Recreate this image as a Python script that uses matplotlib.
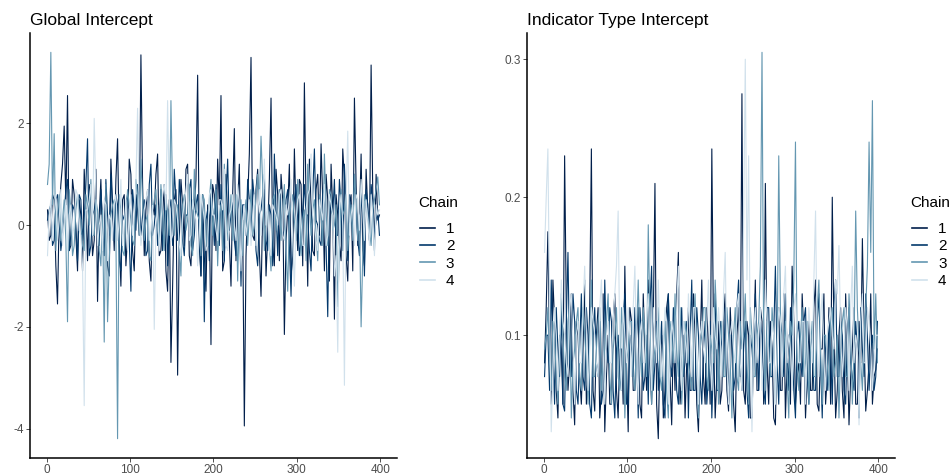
import numpy as np
import matplotlib
matplotlib.use("Agg")
import matplotlib.pyplot as plt
from matplotlib.lines import Line2D

plt.rcParams['font.family'] = ['Liberation Sans', 'DejaVu Sans']

# draws are read at every 2nd iteration: the base lists hold iterations 1,5,9,...
# and the *_mid lists the draws in between (3,7,11,...)
iters = np.arange(1, 401, 2)
chains = ['1', '2', '3', '4']
colors = ['#011f4b', '#03396c', '#6497b1', '#d1e1ec']

# Global Intercept, one list per chain
glob_1 = [0.3, -0.2, 0.5, -1.55, 0.8, 1.95, 2.55, -0.4, 0.6, -0.9,
          0.2, 1.1, -0.7, 0.4, -0.3, -1.5, 0.9, 0.1, -0.8, 1.3,
          -0.5, 1.7, -1.2, 0.6, -0.2, 1.0, -0.9, 0.3, 3.35, -0.6,
          0.7, -1.1, 0.2, 1.4, -0.5, 0.8, -1.3, -2.7, 0.5, -2.95,
          0.9, -0.4, 1.2, -0.8, 0.3, 2.95, -1.0, -0.6, 0.4, -2.35,
          0.6, 1.3, 2.55, -0.7, 0.2, -1.2, 1.9, 0.4, -0.9, -3.95,
          0.5, 3.3, -0.3, 1.1, -1.4, 0.7, -0.2, 2.5, -0.8, 0.6,
          1.0, -2.15, 0.3, -1.0, 1.5, -0.5, 0.8, 2.8, -1.2, 0.4,
          -0.6, 1.0, 1.6, -0.9, 0.5, 1.2, -1.85, 0.2, -0.7, 0.9,
          -1.1, 0.6, 2.5, -0.4, 1.4, -0.8, 0.3, 3.15, -0.5, 0.1]
glob_1_mid = [-0.3, 0.6, -0.8, 0.2, 1.2, 0.4, -0.5, 0.9, -0.2, 0.5,
              -0.9, 0.3, 0.8, -0.6, 1.1, 0.2, -0.4, 0.7, -1.0, 0.4,
              0.9, -0.3, 0.5, -0.8, 1.3, -0.5, 0.6, -0.2, 0.8, 0.3,
              -0.7, 0.4, 1.0, -0.6, 0.2, -0.9, 0.5, -1.2, 0.7, -0.3,
              0.4, 1.1, -0.6, 0.3, 0.9, -0.4, 0.6, -1.3, 0.2, 0.8,
              -0.5, 0.4, -0.9, 1.0, -0.3, 0.6, -0.7, 1.2, 0.1, -0.6,
              1.4, -0.2, 0.7, -0.5, 0.3, -1.0, 0.9, -0.4, 1.1, -0.7,
              0.5, -0.3, 1.2, -0.6, 0.2, 0.9, -0.8, 0.4, 1.3, -0.5,
              0.7, -0.2, 0.5, 1.0, -1.1, 0.3, 0.6, -0.4, 1.5, -0.6,
              0.4, -0.9, 0.8, 0.1, -0.5, 1.1, -0.3, 0.6, 1.0, 0.2]
glob_2 = [0.1, 0.4, -0.3, 0.6, -0.5, 0.2, 0.9, -0.2, 0.3, -0.7,
          0.5, 0.1, 1.7, -0.4, 0.3, -0.1, 0.7, -0.6, 0.2, 1.0,
          -0.3, 0.4, -0.9, 0.1, 0.6, -1.3, 0.3, 0.8, -0.2, 0.5,
          -0.5, 1.2, 0.0, -0.4, 0.7, 0.2, -0.8, 0.5, 1.1, -0.3,
          0.4, -0.6, 0.2, 0.9, -0.2, 0.6, -1.0, -1.9, 0.3, 0.7,
          -0.4, 0.1, 0.8, -0.7, 1.3, 0.2, -0.3, 0.6, -1.2, 0.4,
          0.9, -0.2, 0.5, -0.8, 0.3, 1.0, -0.5, 0.2, 1.4, -0.6,
          0.3, -0.1, 0.7, -1.4, 0.5, 0.1, -0.3, 0.8, 0.2, -0.9,
          1.5, 0.0, -0.4, 0.6, -1.8, 0.3, 0.9, -0.2, 0.4, 1.2,
          -0.7, 0.2, 1.0, -0.3, 0.6, -1.0, 0.4, 0.8, -0.2, 0.3]
glob_2_mid = [0.3, -0.4, 0.5, 0.1, -0.2, 0.7, -0.5, 0.4, 0.0, 0.6,
              -0.3, 0.8, -0.6, 0.2, 0.5, -0.4, 0.1, 0.9, -0.2, 0.3,
              0.6, -0.7, 0.2, 0.4, -0.3, 0.7, -0.1, 0.5, 0.2, -0.6,
              0.8, -0.2, 0.4, 0.1, -0.5, 0.6, 0.3, -0.4, 0.5, 0.9,
              -0.3, 0.2, 0.7, -0.5, 0.4, -0.2, 0.6, 0.1, -0.7, 0.3,
              0.8, -0.4, 0.2, 0.5, -0.1, 0.6, -0.6, 0.3, 0.4, -0.2,
              0.5, 0.9, -0.5, 0.2, 0.6, -0.3, 0.4, -0.8, 0.3, 0.7,
              -0.2, 0.5, -0.4, 0.1, 0.8, -0.6, 0.3, 0.2, -0.5, 0.6,
              0.1, -0.3, 0.7, -0.4, 0.5, 0.2, -0.2, 0.9, -0.5, 0.3,
              0.6, -0.1, 0.4, -0.6, 0.2, 0.7, -0.3, 0.5, 0.1, -0.2]
glob_3 = [0.8, 3.4, 1.8, 0.2, -0.3, 0.5, -1.9, 0.3, -0.4, 0.6,
          0.1, -0.5, 0.4, 0.9, -0.2, 0.3, -0.8, -2.3, -1.9, 0.2,
          0.5, -4.2, 0.3, -0.6, 0.7, 0.1, -0.4, 0.6, 1.3, -0.3,
          0.2, -0.7, 0.5, 0.0, 0.8, -0.5, 0.3, 2.45, -0.2, 0.4,
          -1.0, 0.6, 0.1, -0.4, 1.1, 0.2, -0.6, 0.5, -0.1, 0.9,
          0.3, -0.8, 0.4, 1.2, -0.3, 0.6, 0.1, -1.1, 0.5, 0.2,
          -0.4, 0.7, 0.0, 1.0, 1.75, -0.5, 0.3, -0.9, 0.6, 0.2,
          -0.3, 0.8, -1.3, 0.4, 0.1, 0.9, -0.6, 0.3, 1.2, -0.2,
          0.5, -0.7, 0.2, 1.4, -0.4, 0.6, 0.0, -1.6, 0.7, 0.3,
          -0.5, 0.4, 1.0, -0.3, -2.0, 0.6, 0.2, -0.4, 0.5, 0.95]
glob_3_mid = [1.2, 0.4, -0.5, 0.6, 0.1, -0.3, 0.7, -0.6, 0.3, 0.2,
              -0.4, 0.6, 0.0, -0.2, 0.5, -0.5, 0.3, 0.8, -0.7, 0.4,
              -0.1, 0.6, -0.5, 0.2, 0.4, -0.3, 0.9, -0.2, 0.5, 0.1,
              -0.6, 0.3, 0.7, -0.4, 0.2, 0.5, -0.2, 0.6, 0.3, -0.5,
              0.4, -0.1, 0.8, -0.6, 0.3, 0.1, 0.6, -0.4, 0.5, -0.2,
              0.7, 0.2, -0.5, 0.4, 0.0, -0.3, 0.6, 0.3, -0.6, 0.5,
              0.2, -0.2, 0.6, 0.4, 0.8, 0.1, -0.4, 0.5, -0.1, 0.7,
              0.3, -0.5, 0.2, 0.6, -0.3, 0.4, 0.1, -0.7, 0.5, 0.3,
              -0.2, 0.6, -0.4, 0.3, 0.7, -0.1, 0.4, -0.5, 0.2, 0.6,
              0.0, -0.3, 0.5, 0.2, -0.6, 0.4, -0.1, 0.3, 0.7, 0.4]
glob_4 = [-0.6, 0.5, 0.2, -0.3, 0.7, 0.1, -0.5, 0.4, 0.0, 0.6,
          -0.2, -3.55, 0.3, 0.8, 2.1, -0.4, 0.2, 0.5, -0.7, 0.1,
          0.4, -0.3, 0.9, 0.0, -0.5, 0.6, 0.2, 2.3, -0.4, 0.3,
          0.7, -0.1, -2.05, 0.4, 0.0, 0.8, 2.45, -0.3, 0.5, 0.1,
          -0.6, 0.4, 1.0, -0.2, 0.3, -0.8, 0.6, 0.1, -0.4, 0.7,
          0.2, -0.3, 0.5, 1.1, -0.5, 0.3, 0.0, 0.8, -0.9, 0.4,
          0.1, -0.4, 0.6, 0.2, -0.2, 1.3, 0.4, -0.6, 0.3, 0.0,
          0.7, -0.3, 0.2, 0.9, -1.2, 0.5, 0.1, -0.4, 0.6, 1.4,
          0.0, -0.5, 0.3, 0.8, -0.2, 0.4, -1.0, -2.5, 0.6, -3.15,
          1.85, 0.2, -0.4, 0.5, 0.9, -0.3, 0.1, 0.6, -0.6, 0.2]
glob_4_mid = [0.2, -0.3, 0.6, 0.1, -0.4, 0.5, 0.2, -0.2, 0.7, -0.1,
              -0.8, 0.3, 0.5, -0.2, 0.6, 0.0, -0.5, 0.4, 0.2, -0.3,
              0.6, 0.1, -0.4, 0.5, 0.3, -0.2, 0.8, 0.2, -0.1, 0.5,
              -0.3, 0.4, 0.0, -0.5, 0.6, 0.3, 0.5, -0.2, 0.4, -0.4,
              0.2, 0.7, -0.3, 0.5, 0.1, -0.2, 0.4, -0.5, 0.6, 0.2,
              -0.1, 0.5, 0.3, -0.4, 0.2, 0.6, -0.3, 0.4, 0.1, -0.2,
              0.5, 0.2, -0.4, 0.7, 0.3, 0.0, -0.5, 0.4, 0.2, 0.6,
              -0.2, 0.4, 0.5, -0.3, 0.1, 0.6, -0.4, 0.3, 0.7, 0.2,
              -0.3, 0.5, 0.1, -0.4, 0.6, 0.2, -0.6, 0.3, 0.0, 0.5,
              -0.2, 0.4, 0.6, -0.1, 0.3, 0.5, -0.4, 0.2, 0.4, 0.3]

# Indicator Type Intercept
ind_1 = [0.08, 0.175, 0.05, 0.11, 0.04, 0.09, 0.23, 0.06, 0.13, 0.035,
         0.10, 0.05, 0.14, 0.07, 0.235, 0.045, 0.12, 0.06, 0.03, 0.10,
         0.05, 0.13, 0.04, 0.09, 0.15, 0.03, 0.11, 0.06, 0.12, 0.04,
         0.09, 0.14, 0.05, 0.21, 0.025, 0.10, 0.06, 0.13, 0.035, 0.06,
         0.16, 0.07, 0.04, 0.12, 0.06, 0.10, 0.03, 0.14, 0.05, 0.09,
         0.235, 0.04, 0.11, 0.06, 0.13, 0.045, 0.09, 0.03, 0.12, 0.275,
         0.05, 0.10, 0.04, 0.14, 0.06, 0.11, 0.21, 0.05, 0.09, 0.035,
         0.12, 0.06, 0.04, 0.10, 0.15, 0.05, 0.08, 0.13, 0.04, 0.11,
         0.06, 0.14, 0.045, 0.09, 0.05, 0.12, 0.20, 0.04, 0.10, 0.06,
         0.13, 0.035, 0.09, 0.05, 0.11, 0.17, 0.045, 0.08, 0.05, 0.075]
ind_1_mid = [0.12, 0.09, 0.14, 0.06, 0.10, 0.05, 0.12, 0.08, 0.06, 0.11,
             0.07, 0.09, 0.05, 0.12, 0.06, 0.10, 0.04, 0.13, 0.07, 0.05,
             0.11, 0.06, 0.09, 0.05, 0.08, 0.12, 0.06, 0.10, 0.05, 0.13,
             0.06, 0.08, 0.11, 0.05, 0.09, 0.04, 0.12, 0.07, 0.10, 0.13,
             0.05, 0.10, 0.08, 0.06, 0.13, 0.05, 0.09, 0.07, 0.12, 0.05,
             0.10, 0.07, 0.05, 0.11, 0.06, 0.12, 0.05, 0.10, 0.07, 0.06,
             0.11, 0.04, 0.09, 0.06, 0.12, 0.05, 0.08, 0.11, 0.04, 0.10,
             0.06, 0.13, 0.08, 0.05, 0.11, 0.07, 0.05, 0.10, 0.07, 0.06,
             0.12, 0.05, 0.09, 0.13, 0.07, 0.05, 0.10, 0.06, 0.12, 0.04,
             0.09, 0.07, 0.12, 0.05, 0.08, 0.10, 0.06, 0.13, 0.07, 0.09]
ind_2 = [0.07, 0.10, 0.14, 0.05, 0.09, 0.12, 0.045, 0.16, 0.07, 0.11,
         0.05, 0.13, 0.06, 0.10, 0.04, 0.12, 0.07, 0.05, 0.14, 0.08,
         0.11, 0.04, 0.10, 0.06, 0.13, 0.05, 0.09, 0.12, 0.04, 0.10,
         0.07, 0.05, 0.15, 0.08, 0.06, 0.11, 0.04, 0.13, 0.07, 0.10,
         0.05, 0.12, 0.08, 0.04, 0.14, 0.06, 0.10, 0.05, 0.11, 0.07,
         0.04, 0.13, 0.06, 0.09, 0.12, 0.05, 0.10, 0.07, 0.14, 0.06,
         0.11, 0.04, 0.09, 0.13, 0.06, 0.10, 0.05, 0.12, 0.07, 0.15,
         0.05, 0.10, 0.13, 0.06, 0.09, 0.04, 0.11, 0.07, 0.12, 0.05,
         0.10, 0.06, 0.13, 0.04, 0.09, 0.11, 0.05, 0.14, 0.07, 0.10,
         0.05, 0.12, 0.07, 0.11, 0.04, 0.09, 0.13, 0.06, 0.10, 0.07]
ind_2_mid = [0.10, 0.06, 0.09, 0.12, 0.07, 0.05, 0.11, 0.08, 0.13, 0.06,
             0.09, 0.07, 0.12, 0.05, 0.10, 0.08, 0.11, 0.06, 0.09, 0.12,
             0.06, 0.09, 0.07, 0.11, 0.05, 0.10, 0.07, 0.09, 0.12, 0.06,
             0.10, 0.12, 0.06, 0.11, 0.09, 0.05, 0.10, 0.08, 0.12, 0.06,
             0.09, 0.07, 0.11, 0.10, 0.06, 0.12, 0.07, 0.09, 0.05, 0.11,
             0.08, 0.06, 0.11, 0.07, 0.09, 0.10, 0.06, 0.12, 0.08, 0.09,
             0.06, 0.10, 0.07, 0.09, 0.11, 0.06, 0.12, 0.07, 0.10, 0.08,
             0.11, 0.07, 0.09, 0.12, 0.06, 0.10, 0.08, 0.11, 0.07, 0.09,
             0.06, 0.11, 0.08, 0.10, 0.06, 0.09, 0.12, 0.07, 0.11, 0.06,
             0.10, 0.08, 0.06, 0.09, 0.12, 0.07, 0.10, 0.09, 0.06, 0.11]
ind_3 = [0.09, 0.12, 0.06, 0.10, 0.05, 0.13, 0.07, 0.11, 0.04, 0.09,
         0.12, 0.06, 0.10, 0.05, 0.14, 0.07, 0.11, 0.06, 0.09, 0.13,
         0.05, 0.10, 0.07, 0.12, 0.04, 0.09, 0.11, 0.06, 0.14, 0.07,
         0.10, 0.18, 0.05, 0.09, 0.12, 0.06, 0.11, 0.04, 0.10, 0.13,
         0.07, 0.05, 0.11, 0.08, 0.06, 0.13, 0.04, 0.10, 0.12, 0.06,
         0.09, 0.14, 0.05, 0.11, 0.07, 0.10, 0.04, 0.12, 0.06, 0.09,
         0.13, 0.05, 0.10, 0.07, 0.11, 0.305, 0.06, 0.09, 0.12, 0.05,
         0.23, 0.07, 0.11, 0.04, 0.10, 0.24, 0.06, 0.12, 0.08, 0.05,
         0.11, 0.07, 0.14, 0.05, 0.10, 0.06, 0.12, 0.08, 0.04, 0.11,
         0.07, 0.13, 0.05, 0.19, 0.09, 0.06, 0.12, 0.24, 0.27, 0.13]
ind_3_mid = [0.10, 0.08, 0.11, 0.07, 0.09, 0.10, 0.06, 0.12, 0.08, 0.11,
             0.07, 0.12, 0.08, 0.10, 0.07, 0.09, 0.12, 0.08, 0.11, 0.07,
             0.09, 0.12, 0.06, 0.10, 0.08, 0.11, 0.07, 0.10, 0.09, 0.12,
             0.07, 0.11, 0.08, 0.10, 0.07, 0.09, 0.06, 0.11, 0.08, 0.09,
             0.12, 0.08, 0.10, 0.07, 0.11, 0.08, 0.09, 0.12, 0.07, 0.10,
             0.08, 0.11, 0.09, 0.07, 0.12, 0.08, 0.10, 0.07, 0.11, 0.10,
             0.08, 0.12, 0.07, 0.10, 0.15, 0.09, 0.11, 0.07, 0.10, 0.08,
             0.12, 0.09, 0.07, 0.11, 0.14, 0.08, 0.10, 0.07, 0.11, 0.09,
             0.07, 0.12, 0.09, 0.10, 0.08, 0.11, 0.07, 0.10, 0.09, 0.12,
             0.07, 0.10, 0.09, 0.12, 0.08, 0.10, 0.15, 0.16, 0.09, 0.08]
ind_4 = [0.16, 0.235, 0.03, 0.12, 0.06, 0.14, 0.10, 0.07, 0.13, 0.05,
         0.11, 0.08, 0.15, 0.06, 0.12, 0.10, 0.07, 0.14, 0.05, 0.11,
         0.08, 0.13, 0.19, 0.06, 0.10, 0.12, 0.07, 0.15, 0.05, 0.11,
         0.08, 0.13, 0.06, 0.10, 0.14, 0.07, 0.12, 0.05, 0.11, 0.08,
         0.15, 0.06, 0.10, 0.13, 0.07, 0.12, 0.05, 0.11, 0.08, 0.14,
         0.06, 0.10, 0.12, 0.07, 0.16, 0.05, 0.11, 0.08, 0.13, 0.06,
         0.30, 0.23, 0.03, 0.12, 0.10, 0.06, 0.14, 0.08, 0.11, 0.05,
         0.12, 0.07, 0.15, 0.10, 0.06, 0.13, 0.08, 0.11, 0.05, 0.12,
         0.08, 0.19, 0.07, 0.13, 0.06, 0.11, 0.10, 0.14, 0.165, 0.07,
         0.12, 0.06, 0.15, 0.10, 0.035, 0.13, 0.08, 0.11, 0.06, 0.10]
ind_4_mid = [0.20, 0.12, 0.07, 0.10, 0.09, 0.11, 0.08, 0.12, 0.09, 0.10,
             0.08, 0.12, 0.10, 0.09, 0.11, 0.08, 0.12, 0.09, 0.10, 0.08,
             0.11, 0.15, 0.09, 0.12, 0.08, 0.10, 0.12, 0.09, 0.10, 0.08,
             0.11, 0.09, 0.12, 0.08, 0.10, 0.09, 0.11, 0.08, 0.10, 0.12,
             0.09, 0.11, 0.08, 0.10, 0.12, 0.08, 0.10, 0.09, 0.11, 0.08,
             0.12, 0.09, 0.10, 0.13, 0.08, 0.10, 0.09, 0.12, 0.08, 0.18,
             0.14, 0.09, 0.10, 0.08, 0.12, 0.09, 0.11, 0.08, 0.10, 0.09,
             0.11, 0.13, 0.08, 0.09, 0.12, 0.10, 0.08, 0.11, 0.09, 0.10,
             0.14, 0.09, 0.11, 0.08, 0.10, 0.12, 0.09, 0.13, 0.10, 0.09,
             0.10, 0.12, 0.08, 0.09, 0.11, 0.08, 0.12, 0.09, 0.08, 0.10]


def merge(a, b):
    return np.column_stack([a, b]).ravel()


panels = [
    ("Global Intercept",
     [merge(glob_1, glob_1_mid), merge(glob_2, glob_2_mid),
      merge(glob_3, glob_3_mid), merge(glob_4, glob_4_mid)],
     [-4, -2, 0, 2], ["-4", "-2", "0", "2"]),
    ("Indicator Type Intercept",
     [merge(ind_1, ind_1_mid), merge(ind_2, ind_2_mid),
      merge(ind_3, ind_3_mid), merge(ind_4, ind_4_mid)],
     [0.1, 0.2, 0.3], ["0.1", "0.2", "0.3"]),
]

fig = plt.figure(figsize=(9.49, 4.75), dpi=100)
ax_pos = [[0.0316, 0.0358, 0.3867, 0.8947], [0.5553, 0.0358, 0.3878, 0.8947]]
leg_x = [0.4405, 0.959]

for k, (title, series, yt, ytl) in enumerate(panels):
    ax = fig.add_axes(ax_pos[k])
    for vals, c in zip(series, colors):
        ax.plot(iters, vals, color=c, linewidth=0.8)
    allv = np.concatenate(series)
    pad = 0.05 * (allv.max() - allv.min())
    ax.set_ylim(allv.min() - pad, allv.max() + pad)
    ax.set_xlim(-20, 420)
    ax.set_xticks([0, 100, 200, 300, 400])
    ax.set_yticks(yt)
    ax.set_yticklabels(ytl)
    for s in ['top', 'right']:
        ax.spines[s].set_visible(False)
    for s in ['left', 'bottom']:
        ax.spines[s].set_linewidth(1.1)
        ax.spines[s].set_color('black')
    ax.tick_params(length=3, width=0.6, color='#333333', labelsize=8.5,
                   labelcolor='#4d4d4d', pad=1.5)
    ax.text(0.0, 1.018, title, transform=ax.transAxes, fontsize=12.5,
            ha='left', va='baseline')
    fig.text(leg_x[k], 1 - 203 / 475, 'Chain', fontsize=11, ha='left', va='center')
    handles = [Line2D([], [], color=c, linewidth=1.2) for c in colors]
    fig.legend(handles, chains, loc='upper left',
               bbox_to_anchor=(leg_x[k] + 0.002, 1 - 222 / 475), frameon=False,
               fontsize=11, handlelength=1.0, handletextpad=0.7,
               labelspacing=0.22, borderpad=0, borderaxespad=0)

fig.savefig('out.png', dpi=100)
